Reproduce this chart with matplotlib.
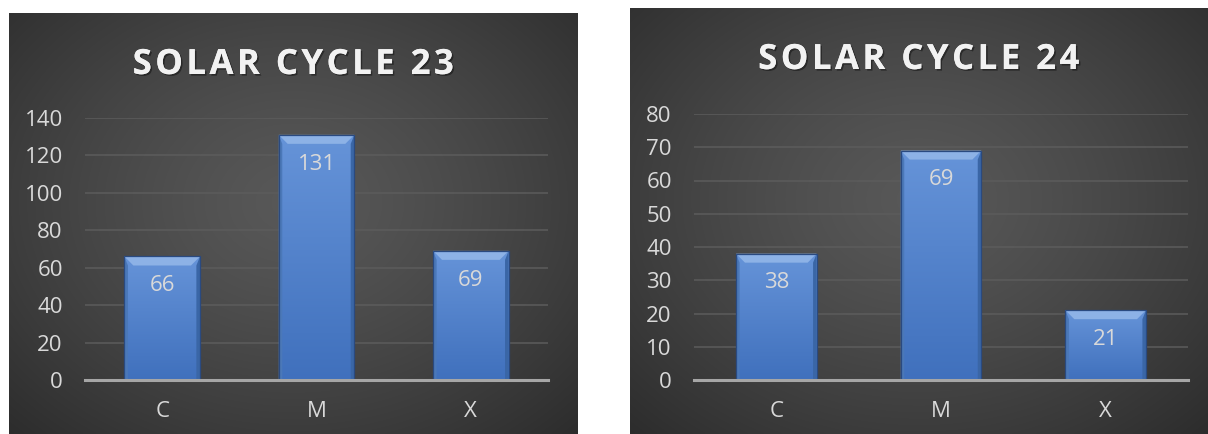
import numpy as np
import matplotlib.pyplot as plt
import matplotlib.patheffects as pe
from matplotlib.patches import Polygon

categories = ["C", "M", "X"]
cycle23 = [66, 131, 69]
cycle24 = [38, 69, 21]
titles = ["SOLAR CYCLE 23", "SOLAR CYCLE 24"]
yticks23 = [0, 20, 40, 60, 80, 100, 120, 140]
yticks24 = [0, 10, 20, 30, 40, 50, 60, 70, 80]

W, H = 1208, 434
plt.rcParams["font.family"] = ["Open Sans", "DejaVu Sans"]

fig = plt.figure(figsize=(W / 100, H / 100), dpi=100)
fig.patch.set_facecolor("white")

light = "#d9d9d9"


def px_box(x0, y0, x1, y1):
    # pixel box (top-left origin) -> figure fraction rect
    return [x0 / W, 1 - y1 / H, (x1 - x0) / W, (y1 - y0) / H]


def background(rect):
    bg = fig.add_axes(rect, zorder=-5)
    ny, nx = 200, 280
    yy, xx = np.mgrid[0:1:ny * 1j, 0:1:nx * 1j]
    r = np.sqrt(((xx - 0.5) / 0.75) ** 2 + ((yy - 0.45) / 0.8) ** 2)
    r = np.clip(r, 0, 1)
    v = 0.345 - (0.345 - 0.165) * r ** 1.3
    img = np.dstack([v, v, v])
    bg.imshow(img, extent=[0, 1, 0, 1], aspect="auto", origin="upper",
              interpolation="bilinear")
    bg.set_axis_off()


def bevel_bars(ax, bars):
    fig.canvas.draw()
    bbox = ax.get_window_extent()
    x0, x1 = ax.get_xlim()
    y0, y1 = ax.get_ylim()
    dxp = (x1 - x0) / bbox.width
    dyp = (y1 - y0) / bbox.height
    depth = 9
    grad = np.linspace(0, 1, 256).reshape(-1, 1)
    for b in bars:
        bx, bw, bh = b.get_x(), b.get_width(), b.get_height()
        # vertical shading of the bar face
        img = np.zeros((256, 1, 3))
        top_c = np.array([0.40, 0.58, 0.85])
        bot_c = np.array([0.25, 0.44, 0.74])
        img[:, 0, :] = top_c * (1 - grad) + bot_c * grad
        im = ax.imshow(img, extent=[bx, bx + bw, 0, bh], aspect="auto",
                       origin="upper", zorder=2.1, interpolation="bilinear")
        im.set_clip_path(b)
        dx = depth * dxp
        dy = depth * dyp
        top = Polygon([[bx, bh], [bx + bw, bh], [bx + bw - dx, bh - dy],
                       [bx + dx, bh - dy]], closed=True,
                      facecolor="#8db2e6", edgecolor="none", zorder=2.3)
        ax.add_patch(top)
        left = Polygon([[bx, bh], [bx + dx * 0.4, bh - dy], [bx + dx * 0.4, 0],
                        [bx, 0]], closed=True, facecolor="#4b78b8",
                       edgecolor="none", zorder=2.2)
        right = Polygon([[bx + bw, bh], [bx + bw - dx * 0.4, bh - dy],
                         [bx + bw - dx * 0.4, 0], [bx + bw, 0]], closed=True,
                        facecolor="#3a66a6", edgecolor="none", zorder=2.2)
        ax.add_patch(left)
        ax.add_patch(right)
        ax.add_patch(Polygon([[bx, 0], [bx, bh], [bx + bw, bh], [bx + bw, 0]],
                             closed=True, fill=False, edgecolor="#2a4a80",
                             linewidth=0.9, zorder=2.4))


def panel(bg_rect, ax_rect, title, title_y, values, yticks):
    background(bg_rect)
    ax = fig.add_axes(ax_rect)
    ax.set_facecolor("none")
    x = np.arange(len(categories))
    bars = ax.bar(x, values, width=0.49, color="#4a7cc2", zorder=2)
    ax.set_xlim(-0.5, len(categories) - 0.5)
    ax.set_ylim(0, yticks[-1])
    ax.set_yticks(yticks)
    ax.set_xticks(x, categories)
    ax.tick_params(axis="y", length=0, pad=16, labelsize=16, labelcolor=light)
    ax.tick_params(axis="x", length=0, pad=15, labelsize=16, labelcolor=light)
    for s in ["top", "right", "left"]:
        ax.spines[s].set_visible(False)
    ax.spines["bottom"].set_color("#a6a6a6")
    ax.spines["bottom"].set_linewidth(2.2)
    ax.spines["bottom"].set_zorder(3)
    ax.yaxis.grid(True, color="#5c5c5c", linewidth=1.1, zorder=0)
    ax.set_axisbelow(True)
    bevel_bars(ax, bars)
    for xi, v in zip(x, values):
        ax.annotate(str(v), (xi, v), xytext=(0, -21), textcoords="offset points",
                    ha="center", va="center", fontsize=16, color=light,
                    zorder=4)
    bx = bg_rect[0] + bg_rect[2] / 2
    fig.text(bx, title_y, "\u200a".join(title), ha="center", va="baseline",
             fontsize=25, fontweight="bold", color="#f2f2f2",
             path_effects=[pe.withSimplePatchShadow(offset=(1.2, -1.2),
                                                    shadow_rgbFace="black",
                                                    alpha=0.4),
                           pe.Normal()])
    return ax


panel(px_box(9, 13, 578, H), px_box(85, 118, 548, 380), titles[0],
      1 - 74 / H, cycle23, yticks23)
panel(px_box(630, 8, W, H), px_box(694, 114, 1188, 380), titles[1],
      1 - 69 / H, cycle24, yticks24)

fig.savefig("out.png", dpi=100, facecolor="white")
